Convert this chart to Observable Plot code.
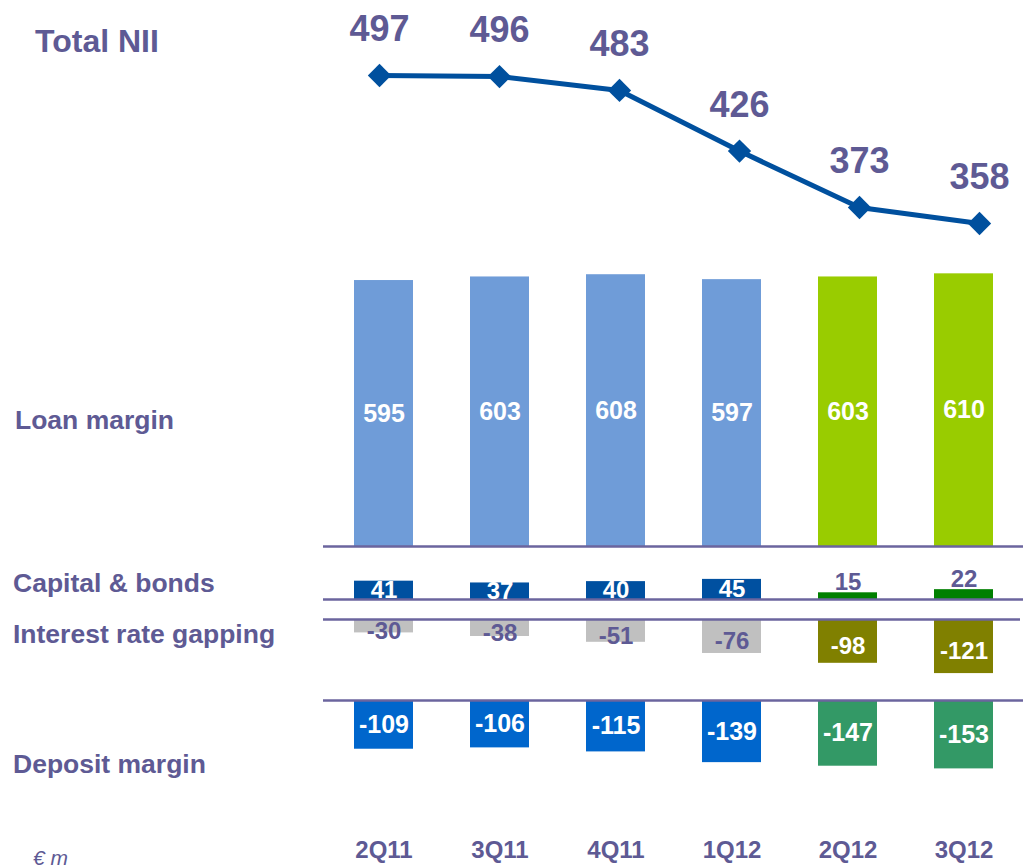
<!DOCTYPE html>
<html>
<head>
<meta charset="utf-8">
<script src="https://cdn.jsdelivr.net/npm/d3@7"></script>
<script src="https://cdn.jsdelivr.net/npm/@observablehq/plot@0.6"></script>
<style>
  html, body { margin: 0; padding: 0; background: #ffffff; }
  #chart { position: relative; width: 1023px; height: 868px; font-family: "Liberation Sans", Arial, sans-serif; color: #5e5a94; overflow: hidden; }
  #chart > svg { position: absolute; left: 0; }
  .lbl { position: absolute; font-weight: bold; white-space: nowrap; }
</style>
</head>
<body>
<div id="chart"></div>
<script>
// ---- data ----
const periods = ["2Q11", "3Q11", "4Q11", "1Q12", "2Q12", "3Q12"];
const totalNII = [497, 496, 483, 426, 373, 358];
const loanMargin = [595, 603, 608, 597, 603, 610];
const capitalBonds = [41, 37, 40, 45, 15, 22];
const rateGapping = [-30, -38, -51, -76, -98, -121];
const depositMargin = [-109, -106, -115, -139, -147, -153];
const phase = ["a", "a", "a", "a", "b", "b"];
const rowLabels = ["Loan margin", "Capital & bonds", "Interest rate gapping", "Deposit margin"];
const unitLabel = "€ m";
const titleLabel = "Total NII";

// ---- style ----
const purple = "#5e5a94";
const ruleColor = "#6b659e";
const font = "'Liberation Sans', Arial, sans-serif";
const k = 0.447; // px per €m for the bar panels
const xRange = [322.6, 1023.4];
const palette = {
  loan: ["#6f9cd8", "#99cc00"],
  capital: ["#0050a0", "#008000"],
  gap: ["#c0c0c0", "#808000"],
  deposit: ["#0066cc", "#339966"]
};

const chart = document.getElementById("chart");
const rows = vals => periods.map((p, i) => ({period: p, value: vals[i], group: phase[i]}));
const baseStyle = {fontFamily: font, background: "transparent", overflow: "visible"};
const bandX = {type: "band", domain: periods, range: xRange, paddingInner: 0.495, paddingOuter: 0.2475, axis: null};

function place(svg, top) {
  svg.style.top = top + "px";
  chart.appendChild(svg);
}

// ---- Total NII line ----
const niiRows = rows(totalNII);
place(Plot.plot({
  width: 1023, height: 250, margin: 0,
  style: baseStyle,
  x: {type: "point", domain: periods, range: [377, 980], padding: 0, axis: null},
  y: {domain: d3.extent(totalNII), range: [223, 75], axis: null},
  marks: [
    Plot.line(niiRows, {x: "period", y: "value", stroke: "#00509e", strokeWidth: 5}),
    Plot.dot(niiRows, {x: "period", y: "value", symbol: "diamond2", r: 10.5, fill: "#00509e", stroke: "none"}),
    Plot.text(niiRows, {x: "period", y: "value", text: d => String(d.value), dy: -46, fontSize: 36, fontWeight: "bold", fill: purple})
  ]
}), 0);

// ---- Loan margin ----
const loanRows = rows(loanMargin);
place(Plot.plot({
  width: 1023, height: 305, marginLeft: 323, marginRight: 0, marginTop: 0, marginBottom: 0,
  style: baseStyle,
  x: bandX,
  y: {domain: [0, 620], range: [296, 296 - 620 * k], axis: null},
  color: {type: "ordinal", domain: ["a", "b"], range: palette.loan},
  marks: [
    Plot.barY(loanRows, {x: "period", y: "value", fill: "group"}),
    Plot.ruleY([0], {stroke: ruleColor, strokeWidth: 2.5}),
    Plot.text(loanRows, {x: "period", y: d => d.value / 2, text: d => String(d.value), fill: "white", fontSize: 25, fontWeight: "bold"})
  ]
}), 250);

// ---- Capital & bonds ----
const capRows = rows(capitalBonds);
place(Plot.plot({
  width: 1023, height: 54, marginLeft: 323, marginRight: 0, marginTop: 0, marginBottom: 0,
  style: baseStyle,
  x: bandX,
  y: {domain: [0, 50], range: [44, 44 - 50 * k], axis: null},
  color: {type: "ordinal", domain: ["a", "b"], range: palette.capital},
  marks: [
    Plot.barY(capRows, {x: "period", y: "value", fill: "group"}),
    Plot.ruleY([0], {stroke: ruleColor, strokeWidth: 2.5}),
    Plot.text(capRows.filter(d => d.group === "a"), {x: "period", y: d => d.value / 2, text: d => String(d.value), fill: "white", fontSize: 24, fontWeight: "bold"}),
    Plot.text(capRows.filter(d => d.group === "b"), {x: "period", y: "value", text: d => String(d.value), dy: -3, lineAnchor: "bottom", fill: purple, fontSize: 24, fontWeight: "bold"})
  ]
}), 555);

// ---- Interest rate gapping ----
const gapRows = rows(rateGapping);
place(Plot.plot({
  width: 1023, height: 76, marginLeft: 323, marginRight: 3, marginTop: 0, marginBottom: 0,
  style: baseStyle,
  x: bandX,
  y: {domain: [-130, 0], range: [10 + 130 * k, 10], axis: null},
  color: {type: "ordinal", domain: ["a", "b"], range: palette.gap},
  marks: [
    Plot.barY(gapRows, {x: "period", y: "value", fill: "group"}),
    Plot.ruleY([0], {stroke: ruleColor, strokeWidth: 2.5}),
    Plot.text(gapRows, {x: "period", y: d => d.value / 2, dy: 5, text: d => String(d.value), fill: d => d.group === "a" ? purple : "white", fontSize: 24, fontWeight: "bold"})
  ]
}), 609);

// ---- Deposit margin + period labels ----
const depRows = rows(depositMargin);
place(Plot.plot({
  width: 1023, height: 183, marginLeft: 323, marginRight: 0, marginTop: 0, marginBottom: 0,
  style: baseStyle,
  x: bandX,
  y: {domain: [-160, 0], range: [15 + 160 * k, 15], axis: null},
  color: {type: "ordinal", domain: ["a", "b"], range: palette.deposit},
  marks: [
    Plot.barY(depRows, {x: "period", y: "value", fill: "group"}),
    Plot.ruleY([0], {stroke: ruleColor, strokeWidth: 2.5}),
    Plot.text(depRows, {x: "period", y: d => d.value / 2, text: d => String(d.value), fill: "white", fontSize: 25, fontWeight: "bold"}),
    Plot.text(periods, {x: d => d, frameAnchor: "bottom", dy: -11, text: d => d, fill: purple, fontSize: 24, fontWeight: "bold"})
  ]
}), 685);

// ---- left-hand labels ----
function label(text, x, cy, size, extra) {
  const el = document.createElement("div");
  el.className = "lbl";
  el.textContent = text;
  el.style.left = x + "px";
  el.style.top = (cy - size * 0.58) + "px";
  el.style.fontSize = size + "px";
  el.style.lineHeight = "1.15";
  if (extra) Object.assign(el.style, extra);
  chart.appendChild(el);
}
label(titleLabel, 35, 42, 32);
label(rowLabels[0], 15, 420, 26.5);
label(rowLabels[1], 13, 583, 26.5);
label(rowLabels[2], 13, 634, 26.5);
label(rowLabels[3], 13, 764, 26.5);
label(unitLabel, 33, 858, 21, {fontWeight: "normal", fontStyle: "italic"});
</script>
</body>
</html>
